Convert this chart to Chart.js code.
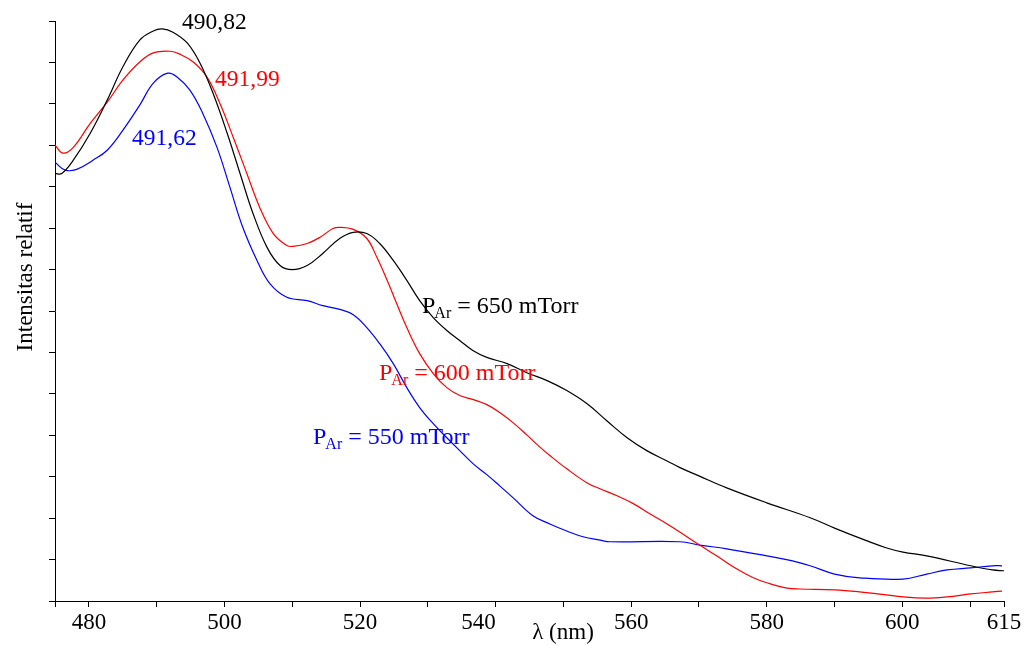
<!DOCTYPE html>
<html>
<head>
<meta charset="utf-8">
<script src="https://cdn.jsdelivr.net/npm/chart.js@4/dist/chart.umd.min.js"></script>
<style>
    html, body { margin:0; padding:0; background:#fff; }
    #wrap { width:1028px; height:646px; position:relative; }
</style>
</head>
<body>
<div id="wrap"><canvas id="spectra" width="1028" height="646"></canvas></div>
<script>
// Panjang gelombang (nm) dan intensitas relatif tiap tekanan Ar
const wl650 = [475.0, 476.0, 477.7, 480.2, 482.7, 485.0, 487.5, 489.5, 490.82, 492.4, 494.5, 496.4, 498.3, 500.4, 502.3, 504.2, 506.3, 508.2, 510.0, 512.2, 514.5, 517.0, 519.0, 521.0, 522.9, 524.9, 526.9, 528.8, 530.8, 532.8, 534.7, 536.7, 538.7, 541.7, 544.6, 547.6, 550.5, 553.5, 556.4, 559.4, 562.3, 565.3, 567.2, 570.0, 574.1, 580.0, 586.4, 590.0, 594.8, 597.7, 600.1, 603.6, 610.1, 613.3, 615.0];
const int650 = [10.32, 10.32, 10.64, 11.29, 12.09, 12.89, 13.54, 13.76, 13.81, 13.73, 13.47, 12.98, 12.26, 11.29, 10.32, 9.36, 8.53, 8.10, 8.00, 8.10, 8.39, 8.75, 8.90, 8.87, 8.63, 8.22, 7.74, 7.25, 6.84, 6.53, 6.29, 6.04, 5.88, 5.73, 5.51, 5.32, 5.08, 4.76, 4.35, 3.94, 3.63, 3.38, 3.22, 3.02, 2.73, 2.37, 2.01, 1.76, 1.45, 1.28, 1.18, 1.09, 0.85, 0.75, 0.73];

const wl600 = [475.0, 476.2, 477.7, 480.2, 482.7, 485.0, 487.5, 489.5, 491.99, 493.4, 495.4, 497.4, 499.3, 501.3, 503.3, 505.2, 507.2, 509.2, 510.1, 512.2, 514.1, 516.0, 517.0, 519.0, 521.0, 522.5, 524.0, 525.4, 526.9, 528.8, 530.8, 532.8, 534.7, 536.7, 538.7, 540.6, 542.6, 544.6, 546.5, 548.0, 550.5, 553.5, 555.4, 557.9, 560.3, 562.8, 565.3, 567.6, 570.1, 572.6, 575.6, 578.0, 580.0, 583.0, 584.9, 590.0, 593.7, 600.1, 603.6, 606.6, 610.1, 613.3, 614.7];
const int600 = [11.00, 10.81, 10.95, 11.53, 12.04, 12.57, 13.01, 13.23, 13.27, 13.20, 13.01, 12.65, 12.02, 11.19, 10.32, 9.50, 8.87, 8.58, 8.56, 8.63, 8.78, 8.99, 9.02, 8.97, 8.75, 8.29, 7.74, 7.18, 6.60, 5.97, 5.49, 5.15, 4.96, 4.86, 4.74, 4.55, 4.30, 4.01, 3.72, 3.51, 3.19, 2.85, 2.71, 2.54, 2.35, 2.10, 1.86, 1.62, 1.35, 1.09, 0.77, 0.56, 0.44, 0.31, 0.29, 0.27, 0.22, 0.10, 0.07, 0.10, 0.17, 0.22, 0.24];

const wl550 = [475.0, 476.5, 478.2, 480.6, 482.7, 485.0, 487.5, 489.5, 491.62, 493.0, 494.9, 496.8, 498.9, 500.8, 502.7, 504.8, 506.7, 509.2, 512.2, 514.5, 517.0, 519.0, 521.0, 522.9, 524.9, 526.9, 528.8, 530.8, 532.8, 534.7, 536.7, 538.7, 540.6, 542.6, 545.5, 548.0, 550.5, 552.9, 555.4, 556.9, 567.2, 570.1, 574.1, 580.0, 583.8, 586.4, 590.0, 593.7, 600.1, 603.6, 606.6, 610.1, 613.3, 614.7];
const int550 = [10.59, 10.40, 10.42, 10.64, 10.88, 11.36, 11.97, 12.50, 12.74, 12.65, 12.33, 11.77, 10.95, 9.99, 9.02, 8.22, 7.66, 7.33, 7.25, 7.13, 7.04, 6.91, 6.60, 6.21, 5.73, 5.15, 4.67, 4.28, 3.94, 3.63, 3.31, 3.05, 2.78, 2.49, 2.06, 1.86, 1.69, 1.55, 1.47, 1.43, 1.43, 1.35, 1.26, 1.09, 0.97, 0.85, 0.65, 0.56, 0.53, 0.65, 0.75, 0.80, 0.85, 0.85];

// Sumbu
const xTickValues = [475, 480, 490, 500, 510, 520, 530, 540, 550, 560, 570, 580, 590, 600, 610, 615];
const xTickLabels = [480, 500, 520, 540, 560, 580, 600, 615];
const pressureLabels = ['650', '600', '550'];
const peakLabels = ['490,82', '491,99', '491,62'];

const FONT = '"Liberation Serif", "Times New Roman", serif';

const toPoints = (xs, ys) => xs.map((x, i) => ({ x: x, y: ys[i] }));

const textPlugin = {
    id: 'textPlugin',
    afterDraw(chart) {
        const ctx = chart.ctx;
        const xs = chart.scales.x;
        ctx.save();
        ctx.font = '23px ' + FONT;
        ctx.textBaseline = 'alphabetic';

        // label 540 digeser ke kiri seperti aslinya
        ctx.fillStyle = '#000';
        ctx.textAlign = 'center';
        ctx.fillText('540', xs.getPixelForValue(540) - 17, 629);

        // judul sumbu x
        ctx.fillText('\u03bb (nm)', 563, 639);

        // judul sumbu y
        ctx.save();
        ctx.translate(32, 277);
        ctx.rotate(-Math.PI / 2);
        ctx.fillText('Intensitas relatif', 0, 0);
        ctx.restore();

        // puncak
        ctx.textAlign = 'left';
        ctx.font = '23.5px ' + FONT;
        const peakPos = [[182, 29, '#000000'], [215, 86, '#ff0000'], [132, 145, '#0000ff']];
        peakLabels.forEach((t, i) => {
            ctx.fillStyle = peakPos[i][2];
            ctx.fillText(t, peakPos[i][0], peakPos[i][1]);
        });

        // label tekanan
        const pPos = [[422, 313, '#000000'], [379, 380, '#ff0000'], [313, 444, '#0000ff']];
        pressureLabels.forEach((p, i) => {
            let [x, y, c] = pPos[i];
            ctx.fillStyle = c;
            ctx.font = '24px ' + FONT;
            ctx.fillText('P', x, y);
            x += ctx.measureText('P').width - 1;
            ctx.font = '16px ' + FONT;
            ctx.fillText('Ar', x, y + 5);
            x += ctx.measureText('Ar').width;
            ctx.font = '24px ' + FONT;
            ctx.fillText(' = ' + p + ' mTorr', x, y);
        });
        ctx.restore();
    }
};

new Chart(document.getElementById('spectra'), {
    type: 'line',
    data: {
        datasets: [
            { label: '650 mTorr', data: toPoints(wl650, int650), borderColor: '#000000' },
            { label: '600 mTorr', data: toPoints(wl600, int600), borderColor: '#ff0000' },
            { label: '550 mTorr', data: toPoints(wl550, int550), borderColor: '#0000ff' }
        ]
    },
    options: {
        responsive: false,
        animation: false,
        datasets: { line: { borderWidth: 1.2, pointRadius: 0, tension: 0.4, fill: false } },
        layout: { padding: { left: 0, top: 21, right: 24, bottom: 0 } },
        plugins: { legend: { display: false }, tooltip: { enabled: false } },
        scales: {
            x: {
                type: 'linear',
                min: 475,
                max: 615,
                afterBuildTicks: (s) => { s.ticks = xTickValues.map(v => ({ value: v })); },
                afterFit: (s) => { s.height = 45; },
                border: { display: true, color: '#000', width: 1 },
                grid: { drawOnChartArea: false, drawTicks: true, tickLength: 6, color: '#000' },
                ticks: {
                    autoSkip: false,
                    maxRotation: 0,
                    padding: 2,
                    color: '#000',
                    font: { family: FONT, size: 23 },
                    callback: (v) => (xTickLabels.includes(v) && v !== 540) ? String(v) : ''
                }
            },
            y: {
                min: 0,
                max: 14,
                afterFit: (s) => { s.width = 55; },
                border: { display: true, color: '#000', width: 1 },
                grid: { drawOnChartArea: false, drawTicks: true, tickLength: 6, color: '#000' },
                ticks: { stepSize: 1, display: false }
            }
        }
    },
    plugins: [textPlugin]
});
</script>
</body>
</html>
